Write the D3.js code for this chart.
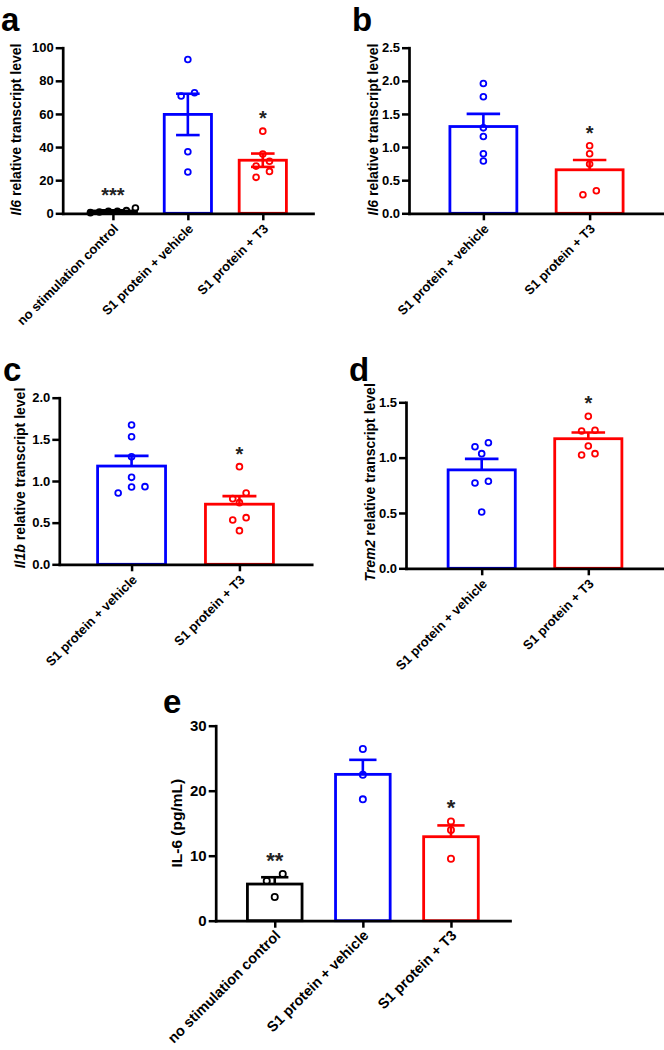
<!DOCTYPE html>
<html>
<head>
<meta charset="utf-8">
<script src="https://cdn.jsdelivr.net/npm/d3@7"></script>
<style>
  html, body { margin: 0; padding: 0; background: #fff; }
  svg { display: block; }
</style>
</head>
<body>
<svg id="chart" width="664" height="1050"></svg>
<script>
// ---------------- DATA ----------------
const catsThree = ["no stimulation control", "S1 protein + vehicle", "S1 protein + T3"];
const catsTwo = ["S1 protein + vehicle", "S1 protein + T3"];

// Panel a: Il6 relative transcript level
const il6A_control = [0.8, 3.2, 1.2, 1.6, 0.4, 1.2];
const il6A_vehicle = [92.9, 70.8, 72.8, 37.2, 24.9];
const il6A_t3 = [49.6, 35.8, 31.4, 28.5, 25.3, 21.7];
const sigA = ["***", "", "*"];
const ticksA = [0, 20, 40, 60, 80, 100];

// Panel b: Il6 relative transcript level
const il6B_vehicle = [1.96, 1.76, 1.29, 1.16, 0.90, 0.79];
const il6B_t3 = [1.02, 0.90, 0.745, 0.34, 0.28];
const sigB = ["", "*"];
const ticksB = [0, 0.5, 1.0, 1.5, 2.0, 2.5];

// Panel c: Il1b relative transcript level
const il1bC_vehicle = [1.672, 1.532, 1.292, 1.044, 0.932, 0.928, 0.856];
const il1bC_t3 = [1.172, 0.856, 0.788, 0.74, 0.56, 0.532, 0.404];
const sigC = ["", "*"];
const ticksC = [0, 0.5, 1.0, 1.5, 2.0];

// Panel d: Trem2 relative transcript level
const trem2D_vehicle = [1.135, 1.099, 1.036, 0.786, 0.771, 0.509];
const trem2D_t3 = [1.373, 1.247, 1.241, 1.105, 1.036, 1.024];
const sigD = ["", "*"];
const ticksD = [0, 0.5, 1.0, 1.5];

// Panel e: IL-6 (pg/mL)
const il6E_control = [7.18, 6.10, 3.64];
const il6E_vehicle = [26.41, 22.46, 18.67];
const il6E_t3 = [15.28, 13.95, 9.54];
const sigE = ["**", "", "*"];
const ticksE = [0, 10, 20, 30];

const colorsThree = ["#000000", "#0000ff", "#ff0000"];
const colorsTwo = ["#0000ff", "#ff0000"];

// ---------------- DRAWING ----------------
const FONT = "'Liberation Sans', Arial, Helvetica, sans-serif";
const svg = d3.select("#chart");

function stats(v) {
  const m = d3.mean(v);
  const sem = d3.deviation(v) / Math.sqrt(v.length);
  return { mean: m, sem: sem };
}

// GraphPad-like scatter layout: points close in y share a centred row
function rowLayout(values, y, cx, h, thr, maxW) {
  const idx = values.map((v, i) => i).sort((a, b) => values[b] - values[a]);
  const rows = [];
  let cur = null;
  idx.forEach(i => {
    const py = y(values[i]);
    if (cur && Math.abs(py - cur.y0) < thr) cur.items.push(i);
    else { cur = { y0: py, items: [i] }; rows.push(cur); }
  });
  const xs = new Array(values.length);
  rows.forEach(r => {
    const k = r.items.length;
    let s = 2 * h;
    if (k > 1 && s * (k - 1) > maxW) s = maxW / (k - 1);
    const ordered = r.items.slice().sort((a, b) => values[a] - values[b]);
    ordered.forEach((i, j) => { xs[i] = cx + (j - (k - 1) / 2) * s; });
  });
  return xs;
}

function panel(cfg) {
  const g = svg.append("g");
  const x = d3.scalePoint().domain(cfg.categories).range([cfg.left, cfg.right]).padding(cfg.pad);
  const y = d3.scaleLinear().domain([0, cfg.yMax]).range([cfg.bottom, cfg.top]);
  const bw = x.step() * cfg.barFrac;

  // panel letter
  g.append("text").attr("x", cfg.letterX).attr("y", cfg.letterY)
    .attr("font-family", FONT).attr("font-weight", "bold").attr("font-size", 33)
    .text(cfg.letter);

  const groups = cfg.categories.map((c, i) => ({ c, vals: cfg.series[i], color: cfg.colors[i], sig: cfg.sig[i], ...stats(cfg.series[i]) }));

  // bars
  g.selectAll("rect.bar").data(groups).enter().append("rect")
    .attr("x", d => x(d.c) - bw / 2)
    .attr("y", d => y(d.mean))
    .attr("width", bw)
    .attr("height", d => y(0) - y(d.mean))
    .attr("fill", "none")
    .attr("stroke", d => d.color)
    .attr("stroke-width", 2.8);

  // points
  groups.forEach(d => {
    const xs = rowLayout(d.vals, y, x(d.c), cfg.h, cfg.thr, cfg.maxRow);
    g.selectAll(null).data(d.vals).enter().append("circle")
      .attr("cx", (v, i) => xs[i])
      .attr("cy", v => y(v))
      .attr("r", cfg.r)
      .attr("fill", "none")
      .attr("stroke", d.color)
      .attr("stroke-width", 1.8);
  });

  // error bars (SEM) and significance marks
  groups.forEach(d => {
    const cx = x(d.c);
    const top = y(d.mean + d.sem);
    const bot = cfg.errDown ? y(d.mean - d.sem) : y(d.mean);
    const cw = bw * 0.5;
    g.append("line").attr("x1", cx).attr("x2", cx).attr("y1", top).attr("y2", bot)
      .attr("stroke", d.color).attr("stroke-width", 2.6);
    g.append("line").attr("x1", cx - cw / 2).attr("x2", cx + cw / 2).attr("y1", top).attr("y2", top)
      .attr("stroke", d.color).attr("stroke-width", 2.6);
    if (cfg.errDown) {
      g.append("line").attr("x1", cx - cw / 2).attr("x2", cx + cw / 2).attr("y1", bot).attr("y2", bot)
        .attr("stroke", d.color).attr("stroke-width", 2.6);
    }
    if (d.sig) {
      const yy = y(Math.max(d3.max(d.vals), d.mean + d.sem)) - cfg.sigGap;
      g.append("text").attr("x", cx).attr("y", yy).attr("text-anchor", "middle")
        .attr("font-family", FONT).attr("font-size", cfg.sigSize).attr("font-weight", "bold")
        .attr("fill", "#222").text(d.sig);
    }
  });

  // y axis
  const yAx = g.append("g").attr("transform", `translate(${cfg.left},0)`)
    .call(d3.axisLeft(y).tickValues(cfg.ticks).tickFormat(cfg.fmt).tickSize(7).tickSizeOuter(0).tickPadding(2));
  yAx.select(".domain").attr("stroke-width", 2.7).attr("stroke-linecap", "square");
  yAx.selectAll(".tick line").attr("stroke-width", 2.5);
  yAx.selectAll(".tick text").attr("font-family", FONT).attr("font-weight", "bold")
    .attr("font-size", cfg.tickSize).attr("fill", "#000");

  // x axis
  const xAx = g.append("g").attr("transform", `translate(0,${cfg.bottom})`)
    .call(d3.axisBottom(x).tickSize(7).tickSizeOuter(0).tickFormat(""));
  xAx.select(".domain").attr("stroke-width", 2.7).attr("stroke-linecap", "square");
  xAx.selectAll(".tick line").attr("stroke-width", 2.5);

  g.selectAll("text.xl").data(cfg.categories).enter().append("text")
    .attr("class", "xl")
    .attr("transform", c => `translate(${x(c) + cfg.xlDx},${cfg.bottom + cfg.xlDy}) rotate(-45)`)
    .attr("text-anchor", "end").attr("dy", "0.35em")
    .attr("font-family", FONT).attr("font-weight", "bold").attr("font-size", cfg.xlSize)
    .text(c => c);

  // y title
  const t = g.append("text")
    .attr("transform", `translate(${cfg.left + cfg.titleDx},${(cfg.top + cfg.bottom) / 2 + cfg.titleDy}) rotate(-90)`)
    .attr("text-anchor", "middle").attr("dy", "0.27em")
    .attr("font-family", FONT).attr("font-weight", "bold").attr("font-size", cfg.titleSize);
  if (cfg.italic) t.append("tspan").attr("font-style", "italic").text(cfg.italic);
  t.append("tspan").text(cfg.title);
}

const f0 = d3.format("d"), f1 = d3.format(".1f");

panel({ letter: "a", letterX: 1, letterY: 31, categories: catsThree, series: [il6A_control, il6A_vehicle, il6A_t3],
  colors: colorsThree, sig: sigA, ticks: ticksA, fmt: f0, yMax: 100,
  left: 62.7, right: 313, top: 47.7, bottom: 213.3, pad: 0.67, barFrac: 0.63,
  h: 6.7, thr: 6.9, maxRow: 45, r: 2.9, errDown: true, sigGap: 6, sigSize: 20,
  tickSize: 13, xlSize: 13, xlDx: 3, xlDy: 13, titleSize: 14, titleDx: -45, titleDy: -1,
  italic: "Il6", title: " relative transcript level" });

panel({ letter: "b", letterX: 352, letterY: 31, categories: catsTwo, series: [il6B_vehicle, il6B_t3],
  colors: colorsTwo, sig: sigB, ticks: ticksB, fmt: f1, yMax: 2.5,
  left: 409, right: 664, top: 47.7, bottom: 213.3, pad: 0.7, barFrac: 0.63,
  h: 6.7, thr: 6.9, maxRow: 45, r: 2.9, errDown: false, sigGap: 6, sigSize: 20,
  tickSize: 13, xlSize: 13, xlDx: 3, xlDy: 13, titleSize: 14, titleDx: -35, titleDy: -1,
  italic: "Il6", title: " relative transcript level" });

panel({ letter: "c", letterX: 3, letterY: 381, categories: catsTwo, series: [il1bC_vehicle, il1bC_t3],
  colors: colorsTwo, sig: sigC, ticks: ticksC, fmt: f1, yMax: 2.0,
  left: 59.3, right: 311.7, top: 397.7, bottom: 564.3, pad: 0.67, barFrac: 0.63,
  h: 6.7, thr: 6.9, maxRow: 45, r: 2.9, errDown: false, sigGap: 6, sigSize: 20,
  tickSize: 13, xlSize: 13, xlDx: 3, xlDy: 13, titleSize: 14, titleDx: -38, titleDy: -3,
  italic: "Il1b", title: " relative transcript level" });

panel({ letter: "d", letterX: 349, letterY: 381, categories: catsTwo, series: [trem2D_vehicle, trem2D_t3],
  colors: colorsTwo, sig: sigD, ticks: ticksD, fmt: f1, yMax: 1.5,
  left: 406, right: 664, top: 402.3, bottom: 568.3, pad: 0.71, barFrac: 0.63,
  h: 6.7, thr: 6.9, maxRow: 45, r: 2.9, errDown: false, sigGap: 6, sigSize: 20,
  tickSize: 13, xlSize: 13, xlDx: 3, xlDy: 13, titleSize: 14, titleDx: -35, titleDy: -3,
  italic: "Trem2", title: " relative transcript level" });

panel({ letter: "e", letterX: 163, letterY: 713, categories: catsThree, series: [il6E_control, il6E_vehicle, il6E_t3],
  colors: colorsThree, sig: sigE, ticks: ticksE, fmt: f0, yMax: 30,
  left: 215.7, right: 510, top: 725.7, bottom: 920.7, pad: 0.67, barFrac: 0.62,
  h: 8, thr: 7.5, maxRow: 45, r: 3.1, errDown: false, sigGap: 6, sigSize: 22,
  tickSize: 15, xlSize: 14.5, xlDx: 3, xlDy: 12, titleSize: 15.5, titleDx: -38, titleDy: 0,
  italic: null, title: "IL-6 (pg/mL)" });
</script>
</body>
</html>
